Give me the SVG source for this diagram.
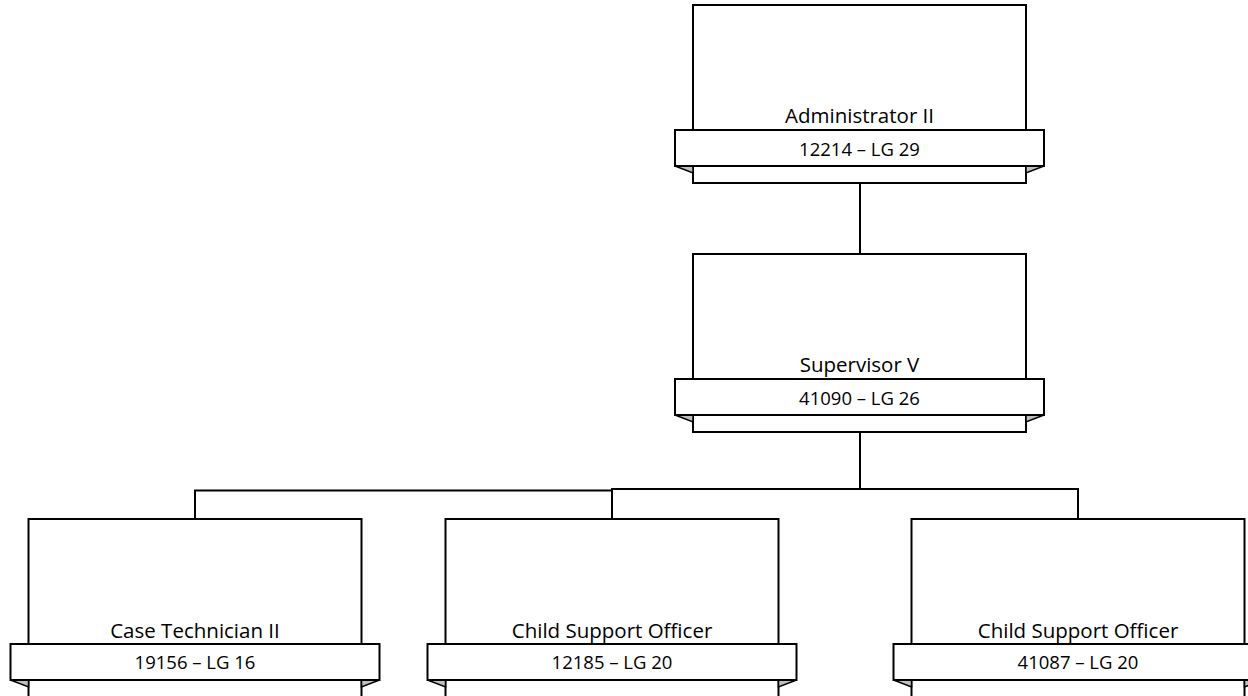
<svg xmlns="http://www.w3.org/2000/svg" width="1248" height="696" viewBox="0 0 1248 696">
<style>
.box{fill:#fff;stroke:#000;stroke-width:2}
.fold{fill:#bfbfbf;stroke:#000;stroke-width:1.5;stroke-linejoin:miter}
.ban{fill:#fff;stroke:#000;stroke-width:2}
.t{font-family:"Open Sans","Liberation Sans",sans-serif;font-size:20.5px;fill:#000;text-anchor:middle}
.n{font-family:"Open Sans","Liberation Sans",sans-serif;font-size:18.5px;fill:#000;text-anchor:middle}
.c{fill:none;stroke:#000;stroke-width:2}
</style>
<defs>
<g id="card">
<rect class="box" x="-166.5" y="0" width="333" height="178"/>
<polygon class="fold" points="-184.5,161 -166.5,161 -166.5,168"/>
<polygon class="fold" points="184.5,161 166.5,161 166.5,168"/>
<rect class="ban" x="-184.5" y="125" width="369" height="36"/>
</g>
</defs>
<g id="connectors">
<path class="c" d="M860,183 V254"/>
<path class="c" d="M860,432 V489"/>
<path class="c" d="M195,519 V490.5 H612 M612,519 V489 H1078 V519"/>
</g>
<g id="n-admin" transform="translate(859.5,5)">
<use href="#card"/>
<text class="t" x="0" y="118">Administrator II</text>
<text class="n" x="0" y="151">12214 – LG 29</text>
</g>
<g id="n-super" transform="translate(859.5,254)">
<use href="#card"/>
<text class="t" x="0" y="118">Supervisor V</text>
<text class="n" x="0" y="151">41090 – LG 26</text>
</g>
<g id="n-case" transform="translate(195,519)">
<use href="#card"/>
<text class="t" x="0" y="118.5">Case Technician II</text>
<text class="n" x="0" y="150">19156 – LG 16</text>
</g>
<g id="n-cso1" transform="translate(612,519)">
<use href="#card"/>
<text class="t" x="0" y="118.5">Child Support Officer</text>
<text class="n" x="0" y="150">12185 – LG 20</text>
</g>
<g id="n-cso2" transform="translate(1078,519)">
<use href="#card"/>
<text class="t" x="0" y="118.5">Child Support Officer</text>
<text class="n" x="0" y="150">41087 – LG 20</text>
</g>
</svg>
